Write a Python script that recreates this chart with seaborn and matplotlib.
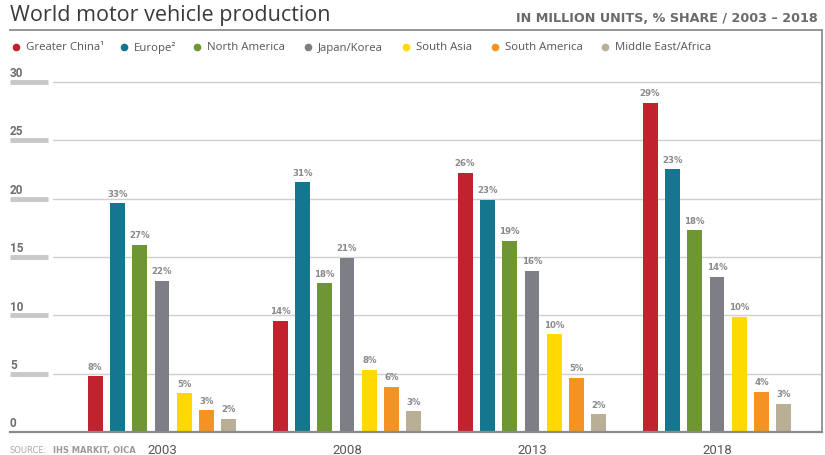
import matplotlib
matplotlib.use("Agg")
import matplotlib.pyplot as plt
import matplotlib.transforms as mtransforms
from matplotlib.lines import Line2D
import pandas as pd
import seaborn as sns

# ---------------- data ----------------
years = ["2003", "2008", "2013", "2018"]
regions = ["Greater China\u00b9", "Europe\u00b2", "North America", "Japan/Korea",
           "South Asia", "South America", "Middle East/Africa"]

greater_china = [4.8, 9.55, 22.2, 28.2]
europe = [19.6, 21.4, 19.9, 22.5]
north_america = [16.05, 12.75, 16.4, 17.3]
japan_korea = [12.95, 14.95, 13.8, 13.3]
south_asia = [3.35, 5.35, 8.4, 9.9]
south_america = [1.9, 3.9, 4.65, 3.45]
middle_east_africa = [1.15, 1.8, 1.55, 2.45]

share_greater_china = ["8%", "14%", "26%", "29%"]
share_europe = ["33%", "31%", "23%", "23%"]
share_north_america = ["27%", "18%", "19%", "18%"]
share_japan_korea = ["22%", "21%", "16%", "14%"]
share_south_asia = ["5%", "8%", "10%", "10%"]
share_south_america = ["3%", "6%", "5%", "4%"]
share_middle_east_africa = ["2%", "3%", "2%", "3%"]

y_ticks = [0, 5, 10, 15, 20, 25, 30]

colors = ["#C0222E", "#167690", "#6E9632", "#7E7E86", "#FFD900", "#F39322", "#B9AF96"]

values = [greater_china, europe, north_america, japan_korea,
          south_asia, south_america, middle_east_africa]
shares = [share_greater_china, share_europe, share_north_america, share_japan_korea,
          share_south_asia, share_south_america, share_middle_east_africa]

rows = []
for reg, vals in zip(regions, values):
    for yr, v in zip(years, vals):
        rows.append({"year": yr, "region": reg, "value": v})
df = pd.DataFrame(rows)

# ---------------- style ----------------
sns.set_style("white")
plt.rcParams["font.family"] = ["Roboto", "DejaVu Sans"]
WIDE = ["DejaVu Sans"]
OPEN = ["Open Sans", "DejaVu Sans"]

W, H = 825, 456
fig = plt.figure(figsize=(W / 100, H / 100), dpi=100)
ax_left, ax_right, ax_top, ax_bottom = 10, 822, 31, 433.3
ax = fig.add_axes([ax_left / W, (H - ax_bottom) / H,
                   (ax_right - ax_left) / W, (ax_bottom - ax_top) / H])

sns.barplot(data=df, x="year", y="value", hue="region", hue_order=regions,
            palette=colors, saturation=1, width=0.8437, gap=0.33,
            errorbar=None, linewidth=0, legend=False, ax=ax)

px_per_unit = 11.69
ax.set_ylim(0, (ax_bottom - ax_top) / px_per_unit)
ax.set_xlim((ax_left - 162) / 185, (ax_right - 162) / 185)

# bar labels
for cont, labs in zip(ax.containers, shares):
    ax.bar_label(cont, labels=labs, padding=4, fontsize=6.2, fontweight="bold",
                 color="#8a8a8a", family=WIDE)

# spines
ax.spines["left"].set_visible(False)
for s in ["top", "right"]:
    ax.spines[s].set_color("#8f8f8f")
    ax.spines[s].set_linewidth(1.3)
ax.spines["bottom"].set_color("#8a8a8a")
ax.spines["bottom"].set_linewidth(1.6)

# gridlines, tick bars and tick labels
width_px = ax_right - ax_left
trans = mtransforms.blended_transform_factory(ax.transAxes, ax.transData)
for t in y_ticks:
    if t > 0:
        ax.axhline(t, xmin=(53 - ax_left) / width_px, xmax=1, color="#cfcfcf",
                   lw=1.0, zorder=0)
        ax.axhline(t, xmin=0, xmax=(48 - ax_left) / width_px, color="#c8c8c8",
                   lw=3.5, solid_capstyle="butt", zorder=0)
    ax.text(0, t + 0.8, str(t), transform=trans, ha="left", va="center",
            fontsize=8.5, fontweight="bold", color="#6e6e6e")

ax.set_yticks([])
ax.set_xlabel("")
ax.set_ylabel("")
ax.tick_params(axis="x", length=0, pad=8, labelsize=9.5, labelcolor="#555555")

# title & subtitle
fig.text(10 / W, 1 - 16 / H, "World motor vehicle production", ha="left", va="center",
         fontsize=15.5, color="#3a3a3a", family=OPEN)
fig.text(818 / W, 1 - 19 / H, "IN MILLION UNITS, % SHARE / 2003 \u2013 2018", ha="right",
         va="center", fontsize=9.2, fontweight="bold", color="#6a6a6a", family=WIDE)

# legend (manual)
leg_circle_x = [16, 124, 197, 308, 406, 495, 605]
leg_y = 1 - 48 / H
for cx, reg, col in zip(leg_circle_x, regions, colors):
    fig.add_artist(Line2D([cx / W], [leg_y], marker="o", markersize=5.5, color=col,
                          markeredgewidth=0, transform=fig.transFigure))
    fig.text((cx + 10) / W, leg_y, reg, ha="left", va="center", fontsize=8.2,
             color="#555555", family=OPEN)

# source
fig.text(10 / W, 1 - 451 / H, "SOURCE:", ha="left", va="center", fontsize=6,
         color="#aaaaaa", family=WIDE)
fig.text(53 / W, 1 - 451 / H, "IHS MARKIT, OICA", ha="left", va="center", fontsize=6,
         fontweight="bold", color="#9a9a9a", family=WIDE)

fig.savefig("out.png", dpi=100)
